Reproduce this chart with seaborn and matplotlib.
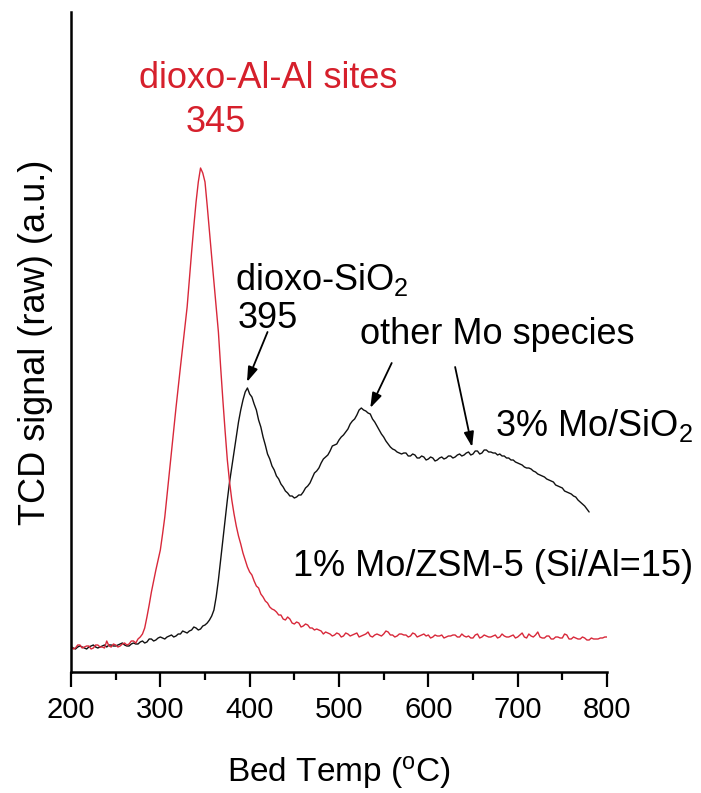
import numpy as np
import pandas as pd
import matplotlib
matplotlib.use("Agg")
import matplotlib.pyplot as plt
import seaborn as sns

# Bed temperature grids (degC), 2.5 degC steps
temp_zsm5 = np.arange(200, 800.1, 2.5)
temp_sio2 = np.arange(200, 780.1, 2.5)

# TCD signal, raw (a.u.), 1% Mo/ZSM-5 (Si/Al=15)
tcd_zsm5 = [
    26, 23, 24, 27, 27, 24, 25, 26, 26, 23, 24, 27, 27, 25, 25, 24, 31, 26, 25, 28,
    27, 25, 26, 28, 29, 27, 28, 31, 31, 29, 33, 35, 38, 44, 55, 67, 80, 91, 102, 112,
    122,
    138, 155, 177, 200, 221, 242, 264, 285, 305, 325, 345, 365, 393, 420, 446, 470, 490, 504, 499, 490,
    466, 440, 415, 390, 365, 340, 305, 272, 241, 212, 190, 172, 158, 146, 136, 128, 119, 112, 105, 100,
    97, 91, 86, 84, 78, 75, 71, 69, 65, 63, 62, 60, 57, 57, 53, 52, 55, 53, 49, 48,
    50, 49, 45, 46, 48, 47, 44, 44, 42, 43, 42, 41, 38, 40, 39, 38, 36, 37, 39, 38,
    35, 36, 39, 38, 36, 37, 38, 39, 35, 36, 37, 38, 40, 36, 35, 37, 38, 37, 36, 38,
    41, 40, 37, 37, 35, 36, 38, 38, 37, 37, 35, 36, 39, 38, 35, 36, 37, 38, 36, 37,
    34, 35, 37, 36, 36, 37, 34, 35, 36, 36, 37, 37, 35, 35, 38, 36, 35, 36, 34, 34,
    37, 38, 34, 35, 37, 36, 35, 35, 36, 37, 34, 35, 38, 36, 35, 35, 36, 37, 34, 35,
    37, 39, 35, 34, 38, 36, 35, 37, 40, 35, 34, 34, 36, 36, 33, 33, 35, 35, 34, 34,
    38, 37, 33, 33, 35, 34, 33, 33, 35, 34, 32, 32, 34, 33, 33, 33, 34, 34, 35, 35,
]

# TCD signal, raw (a.u.), 3% Mo/SiO2
tcd_sio2 = [
    25, 24, 23, 25, 26, 25, 24, 23, 25, 26, 27, 25, 24, 25, 26, 27, 25, 27, 27, 26,
    26, 27, 28, 29, 27, 26, 26, 28, 29, 28, 28, 30, 31, 29, 30, 33, 33, 31, 32, 34,
    35,
    34, 33, 35, 36, 37, 35, 36, 38, 38, 41, 40, 39, 41, 42, 45, 44, 42, 43, 46, 47,
    49, 52, 56, 62, 75, 92, 112, 132, 152, 172, 190, 205, 220, 235, 250, 262, 272, 280, 284, 278,
    275, 268, 262, 252, 245, 235, 227, 218, 213, 206, 202, 196, 193, 188, 185, 181, 179, 176, 176, 174,
    175, 177, 177, 180, 184, 186, 189, 194, 199, 201, 204, 209, 213, 215, 217, 221, 226, 227, 228, 232,
    235, 237, 240, 243, 248, 251, 253, 257, 262, 264, 262, 261, 259, 258, 253, 250, 246, 242, 238, 235,
    231, 228, 225, 223, 222, 220, 219, 218, 219, 219, 216, 216, 218, 217, 214, 214, 216, 215, 212, 213,
    215, 214, 211, 212, 214, 215, 213, 214, 216, 216, 214, 215, 217, 218, 216, 217, 219, 220, 217, 218,
    221, 221, 218, 219, 222, 222, 220, 220, 219, 219, 217, 218, 216, 216, 214, 214, 212, 212, 210, 209,
    208, 207, 205, 204, 204, 203, 201, 200, 198, 197, 196, 195, 193, 192, 191, 190, 187, 186, 185, 184,
    181, 180, 179, 178, 176, 175, 172, 170, 168, 166, 163, 160,
]

x_ticks = [200, 300, 400, 500, 600, 700, 800]
x_minor = [250, 350, 450, 550, 650, 750]

RED = "#d6202c"
LINE_RED = "#d8283a"

sns.set_style("ticks")
plt.rcParams["font.family"] = ["Liberation Sans", "DejaVu Sans"]
plt.rcParams["mathtext.fontset"] = "custom"
plt.rcParams["mathtext.rm"] = "Liberation Sans"
plt.rcParams["mathtext.it"] = "Liberation Sans:italic"
plt.rcParams["mathtext.bf"] = "Liberation Sans:bold"
plt.rcParams["text.color"] = "black"
plt.rcParams["axes.labelcolor"] = "black"
plt.rcParams["xtick.color"] = "black"
plt.rcParams["xtick.labelcolor"] = "black"

df_zsm5 = pd.DataFrame({"T": temp_zsm5, "signal": tcd_zsm5})
df_sio2 = pd.DataFrame({"T": temp_sio2, "signal": tcd_sio2})

fig = plt.figure(figsize=(7.01, 7.93), dpi=100)
ax = fig.add_axes([71 / 701, (793 - 672) / 793, 536 / 701, 660 / 793])

sns.lineplot(data=df_sio2, x="T", y="signal", ax=ax, color="#111111", lw=1.0)
sns.lineplot(data=df_zsm5, x="T", y="signal", ax=ax, color=LINE_RED, lw=1.0)

ax.set_xlim(200, 800)
ax.set_ylim(0, 660)
ax.set_xticks(x_ticks)
ax.set_xticks(x_minor, minor=True)
ax.set_yticks([])
ax.tick_params(axis="x", which="major", direction="out", length=11, width=1.6,
               labelsize=21, pad=6, color="black", labelcolor="black")
ax.tick_params(axis="x", which="minor", direction="out", length=6, width=1.6, color="black")
for side in ("top", "right"):
    ax.spines[side].set_visible(False)
for side in ("left", "bottom"):
    ax.spines[side].set_linewidth(1.8)
    ax.spines[side].set_color("black")

ax.set_xlabel("Bed Temp ($^{\\mathrm{o}}$C)", fontsize=24, labelpad=22, color="black")
ax.set_ylabel("TCD signal (raw) (a.u.)", fontsize=26, labelpad=13, color="black")

# Peak annotations
FS = 26
ax.text(421, 594, "dioxo-Al-Al sites", color=RED, fontsize=FS, ha="center", va="center")
ax.text(362, 549, "345", color=RED, fontsize=FS, ha="center", va="center")
ax.text(384, 393, "dioxo-SiO$_2$", color="black", fontsize=FS, ha="left", va="center")
ax.text(387, 354, "395", color="black", fontsize=FS, ha="left", va="center")
ax.text(524, 337, "other Mo species", color="black", fontsize=FS, ha="left", va="center")
ax.text(896, 246, "3% Mo/SiO$_2$", color="black", fontsize=FS, ha="right", va="center")
ax.text(896, 105, "1% Mo/ZSM-5 (Si/Al=15)", color="black", fontsize=FS, ha="right", va="center")

arrow_kw = dict(arrowstyle="-|>,head_length=0.9,head_width=0.3", color="black", lw=1.3,
                shrinkA=0, shrinkB=0)
ax.annotate("", xy=(397, 290), xytext=(420, 340), arrowprops=arrow_kw)
ax.annotate("", xy=(535, 264), xytext=(559, 309), arrowprops=arrow_kw)
ax.annotate("", xy=(649, 225), xytext=(630, 305), arrowprops=arrow_kw)

fig.savefig("out.png", dpi=100)
